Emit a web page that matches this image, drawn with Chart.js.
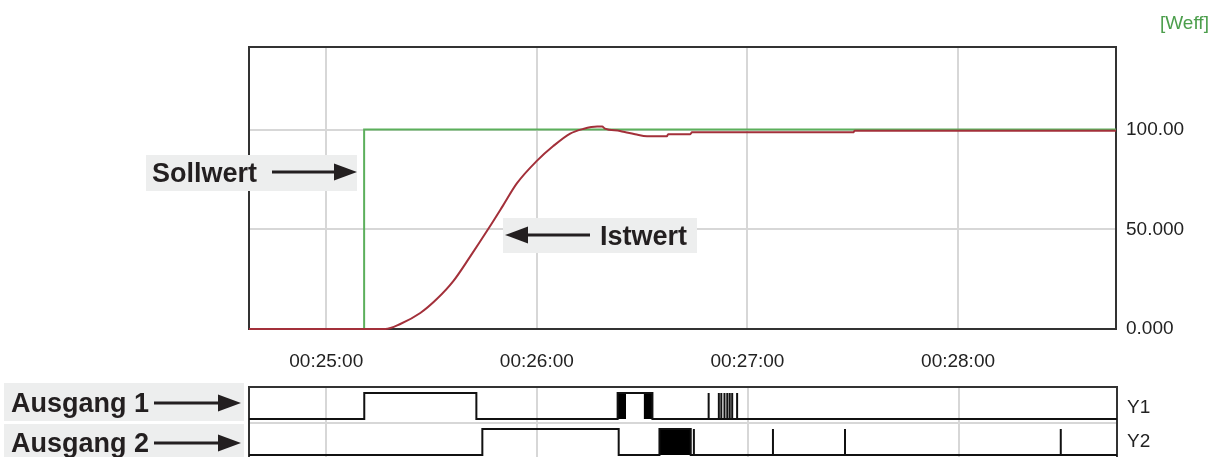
<!DOCTYPE html>
<html>
<head>
<meta charset="utf-8">
<script src="https://cdn.jsdelivr.net/npm/chart.js@4.4.1/dist/chart.umd.min.js"></script>
<style>
  html, body { margin: 0; padding: 0; background: #ffffff; overflow: hidden; width: 1227px; height: 457px; }
  #main { position: absolute; left: 0; top: 0; }
  #dig { position: absolute; left: 0; top: 380px; }
  #ann { position: absolute; left: 0; top: 0; }
</style>
</head>
<body>
<canvas id="main" width="1227" height="380"></canvas>
<canvas id="dig" width="1227" height="90"></canvas>
<svg id="ann" width="1227" height="457" xmlns="http://www.w3.org/2000/svg" font-family="'Liberation Sans', Arial, sans-serif">
  <text x="1160" y="29" font-size="19" fill="#4c9e4c">[Weff]</text>

  <rect x="146" y="155" width="211" height="36" fill="#edeeee"/>
  <text x="152" y="182" font-size="27" font-weight="bold" fill="#231f20">Sollwert</text>
  <line x1="272" y1="172" x2="336" y2="172" stroke="#231f20" stroke-width="3"/>
  <polygon points="357,172 334,163.5 334,180.5" fill="#231f20"/>

  <rect x="503" y="218" width="194" height="35" fill="#edeeee"/>
  <text x="600" y="245" font-size="27" font-weight="bold" fill="#231f20">Istwert</text>
  <line x1="524" y1="235" x2="590" y2="235" stroke="#231f20" stroke-width="3"/>
  <polygon points="505,235 528,226.5 528,243.5" fill="#231f20"/>

  <rect x="4" y="383" width="240" height="38" fill="#edeeee"/>
  <text x="11" y="412" font-size="27" font-weight="bold" fill="#231f20">Ausgang 1</text>
  <line x1="154" y1="403" x2="222" y2="403" stroke="#231f20" stroke-width="3"/>
  <polygon points="241,403 218,394.5 218,411.5" fill="#231f20"/>

  <rect x="4" y="424" width="240" height="40" fill="#edeeee"/>
  <text x="11" y="452" font-size="27" font-weight="bold" fill="#231f20">Ausgang 2</text>
  <line x1="154" y1="443" x2="222" y2="443" stroke="#231f20" stroke-width="3"/>
  <polygon points="241,443 218,434.5 218,451.5" fill="#231f20"/>
</svg>
<script>
// ---------- data (time in seconds since 00:00:00) ----------
const xRange = [1478, 1725];
const xTickValues = [1500, 1560, 1620, 1680];
const xTickLabels = ['00:25:00', '00:26:00', '00:27:00', '00:28:00'];
const yTickValues = [0, 50, 100];
const yTickLabels = ['0.000', '50.000', '100.00'];

const sollTimes  = [1478, 1510.8, 1725];
const sollValues = [0, 100, 100];

const riseTimes  = [1478, 1516.8, 1521.1, 1526.8, 1531.5, 1536.2, 1541.0, 1546.1, 1550.4, 1554.3, 1560.0, 1564.6, 1569.5, 1573.2, 1577.2];
const riseValues = [0,    0,      2.5,    8.0,    15.0,   24.0,   36.3,   50.0,   62.0,   73.0,   84.3,   91.6,   98.0,   100.3,  101.5];
const settleTimes  = [1578.6, 1579.4, 1583.7, 1586.0, 1588.0, 1591.4, 1597.1, 1597.4, 1603.7, 1604.2, 1650.1, 1650.6, 1725];
const settleValues = [101.5,  100.5,  99.3,   98.4,   97.7,   96.7,   96.7,   97.7,   97.7,   98.6,   98.6,   99.4,   99.4];

// digital outputs: switch times toggle the state (start low)
const y1SwitchTimes = [1510.8, 1542.7, 1582.9, 1592.8];
const y1PulseTimes  = [1608.8, 1611.7, 1612.4, 1613.3, 1614.1, 1614.8, 1615.5, 1616.9];
const y1BurstStart  = [1582.9, 1590.3];
const y1BurstEnd    = [1585.3, 1592.8];

const y2SwitchTimes = [1544.4, 1583.2, 1594.8, 1603.7];
const y2PulseTimes  = [1604.6, 1627.1, 1647.6, 1709.0];
const y2BurstStart  = [1594.8];
const y2BurstEnd    = [1603.7];

const channelLabels = ['Y1', 'Y2'];

// ---------- helpers ----------
const FONT = "'Liberation Sans', Arial, sans-serif";
Chart.defaults.font.family = FONT;
const GRID = '#d7d7d7';
const FRAME = '#333333';
const TXT = '#222222';

const zip = (xs, ys) => xs.map((x, i) => ({ x: x, y: ys[i] }));

const framePlugin = {
  id: 'frame',
  beforeDatasetsDraw(chart) {
    const a = chart.chartArea, c = chart.ctx;
    c.save();
    c.strokeStyle = FRAME;
    c.lineWidth = 2;
    c.strokeRect(a.left, a.top, a.right - a.left, a.bottom - a.top);
    c.restore();
  }
};

// ---------- main chart ----------
new Chart(document.getElementById('main'), {
  type: 'line',
  data: {
    datasets: [
      { label: 'Istwert', data: zip(riseTimes.concat(settleTimes), riseValues.concat(settleValues)), borderColor: '#a3303a', borderWidth: 2, pointRadius: 0, cubicInterpolationMode: 'monotone', clip: 4 },
      { label: 'Sollwert', data: zip(sollTimes, sollValues), borderColor: '#5caf5c', borderWidth: 2, pointRadius: 0, stepped: 'before', clip: 4 }
    ]
  },
  options: {
    responsive: false, animation: false, devicePixelRatio: 1,
    layout: { padding: { left: 249, top: 47, right: 0, bottom: 0 } },
    plugins: { legend: { display: false }, tooltip: { enabled: false } },
    scales: {
      x: {
        type: 'linear', min: xRange[0], max: xRange[1],
        afterBuildTicks: s => { s.ticks = xTickValues.map(v => ({ value: v })); },
        afterFit: s => { s.height = 51; s.paddingLeft = 0; s.paddingRight = 0; },
        ticks: { callback: (v) => xTickLabels[xTickValues.indexOf(v)], font: { size: 19 }, color: TXT, padding: 21, maxRotation: 0, autoSkip: false },
        grid: { color: GRID, lineWidth: 2, drawTicks: false },
        border: { display: false }
      },
      y: {
        position: 'right', min: 0, max: 141.4,
        afterBuildTicks: s => { s.ticks = yTickValues.map(v => ({ value: v })); },
        afterFit: s => { s.width = 111; s.paddingTop = 0; s.paddingBottom = 0; },
        ticks: { callback: (v) => yTickLabels[yTickValues.indexOf(v)], font: { size: 19 }, color: TXT, padding: 10 },
        grid: { color: GRID, lineWidth: 2, drawTicks: false },
        border: { display: false }
      }
    }
  },
  plugins: [framePlugin]
});

// ---------- digital chart ----------
const LEV = { y1: [41, 67], y2: [5, 31] };
const SEP = 37;
const labelPos = [52, 18];

function buildLine(switchTimes, pulseTimes, lev) {
  const ev = switchTimes.map(t => ({ t, k: 's' })).concat(pulseTimes.map(t => ({ t, k: 'p' })))
    .sort((a, b) => a.t - b.t);
  let st = 0;
  const pts = [{ x: xRange[0], y: lev[0] }];
  ev.forEach(e => {
    if (e.k === 's') {
      pts.push({ x: e.t, y: lev[st] });
      st = 1 - st;
      pts.push({ x: e.t, y: lev[st] });
    } else {
      pts.push({ x: e.t, y: lev[0] }, { x: e.t, y: lev[1] }, { x: e.t, y: lev[0] });
    }
  });
  pts.push({ x: xRange[1], y: lev[st] });
  return pts;
}
function burstSets(starts, ends, lev) {
  return starts.map((a, i) => ({
    data: [{ x: a, y: lev[0] }, { x: a, y: lev[1] }, { x: ends[i], y: lev[1] }, { x: ends[i], y: lev[0] }],
    borderWidth: 0, pointRadius: 0, fill: { value: lev[0] }, backgroundColor: '#000000', borderColor: '#000000'
  }));
}

const digSets = [
  { data: buildLine(y1SwitchTimes, y1PulseTimes, LEV.y1), borderColor: '#111111', borderWidth: 2, pointRadius: 0, clip: 4 },
  { data: buildLine(y2SwitchTimes, y2PulseTimes, LEV.y2), borderColor: '#111111', borderWidth: 2, pointRadius: 0, clip: 4 }
].concat(burstSets(y1BurstStart, y1BurstEnd, LEV.y1), burstSets(y2BurstStart, y2BurstEnd, LEV.y2));

new Chart(document.getElementById('dig'), {
  type: 'line',
  data: { datasets: digSets },
  options: {
    responsive: false, animation: false, devicePixelRatio: 1,
    layout: { padding: { left: 249, top: 7, right: 0, bottom: 0 } },
    plugins: { legend: { display: false }, tooltip: { enabled: false } },
    scales: {
      x: {
        type: 'linear', min: xRange[0], max: xRange[1],
        afterBuildTicks: s => { s.ticks = xTickValues.map(v => ({ value: v })); },
        afterFit: s => { s.height = 10; s.paddingLeft = 0; s.paddingRight = 0; },
        ticks: { display: false },
        grid: { color: GRID, lineWidth: 2, drawTicks: false },
        border: { display: false }
      },
      y: {
        position: 'right', min: 0, max: 73,
        afterBuildTicks: s => { s.ticks = [labelPos[1], SEP, labelPos[0]].map(v => ({ value: v })); },
        afterFit: s => { s.width = 110; s.paddingTop = 0; s.paddingBottom = 0; },
        ticks: {
          callback: (v) => v === labelPos[0] ? channelLabels[0] : (v === labelPos[1] ? channelLabels[1] : ''),
          font: { size: 19 }, color: TXT, padding: 10
        },
        grid: { color: (c) => (c.tick && c.tick.value === SEP) ? GRID : 'rgba(0,0,0,0)', lineWidth: 2, drawTicks: false },
        border: { display: false }
      }
    }
  },
  plugins: [framePlugin]
});
</script>
</body>
</html>
